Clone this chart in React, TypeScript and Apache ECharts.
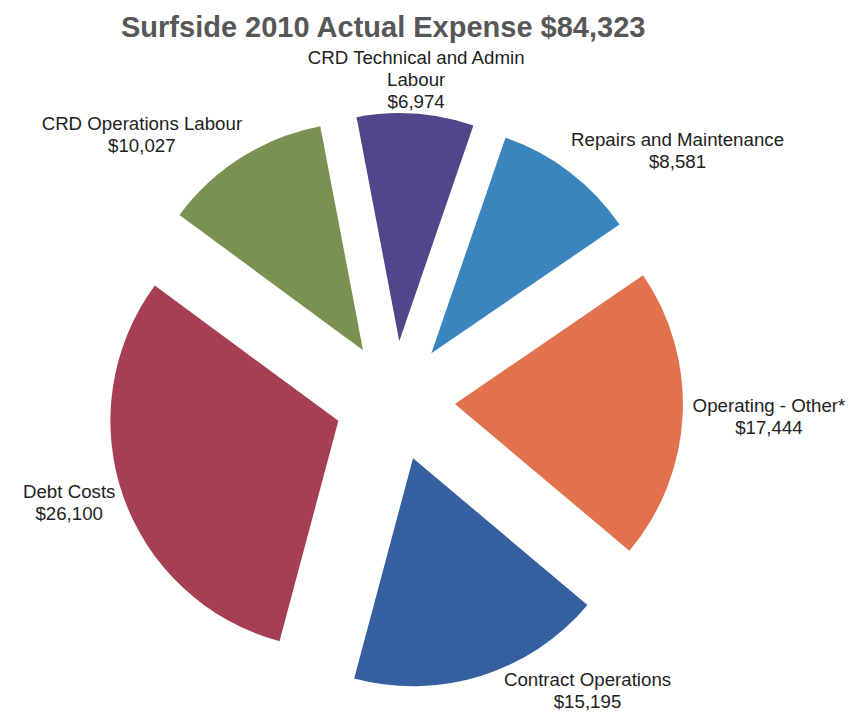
import React, { useEffect, useRef } from "react";
import * as echarts from "echarts";

const titleText = "Surfside 2010 Actual Expense $84,323";
const categories = [
  "CRD Technical and Admin Labour",
  "Repairs and Maintenance",
  "Operating - Other*",
  "Contract Operations",
  "Debt Costs",
  "CRD Operations Labour",
];
const values = [6974, 8581, 17444, 15195, 26100, 10027];
const colors = ["#52468a", "#3a85bd", "#e2714d", "#34609f", "#a63f52", "#7a9251"];

const W = 851;
const H = 712;
const CX = 395;
const CY = 401;
const R = 228;
const OFFSET = 60;
const GAP = 10;
const START = -10.8; // degrees clockwise from 12 o'clock
const FONT = "'Liberation Sans', Arial, Helvetica, sans-serif";

function wrap(name: string, maxChars: number): string {
  const words = name.split(" ");
  const lines: string[] = [];
  let cur = "";
  for (const w of words) {
    const next = cur ? cur + " " + w : w;
    if (next.length > maxChars && cur) {
      lines.push(cur);
      cur = w;
    } else cur = next;
  }
  if (cur) lines.push(cur);
  return lines.join("\n");
}

function fmtMoney(v: number): string {
  return "$" + v.toLocaleString("en-US");
}

export default function App() {
  const ref = useRef<HTMLDivElement>(null);
  useEffect(() => {
    if (!ref.current) return;
    const chart = echarts.init(ref.current, undefined, { renderer: "svg" });
    const total = values.reduce((a, b) => a + b, 0);
    const mids: number[] = [];
    let cum = 0;
    values.forEach((v) => {
      mids.push(START + ((cum + v / 2) / total) * 360);
      cum += v;
    });

    const intersects = (cx: number, cy: number, w: number, h: number, rad: number) => {
      const nx = Math.max(cx - w / 2, Math.min(CX, cx + w / 2));
      const ny = Math.max(cy - h / 2, Math.min(CY, cy + h / 2));
      return Math.hypot(nx - CX, ny - CY) < rad;
    };

    const common = {
      type: "pie",
      center: [CX, CY],
      radius: [0, R],
      startAngle: 90 - START,
      clockwise: true,
      avoidLabelOverlap: false,
      silent: true,
    };

    chart.setOption({
      animation: false,
      backgroundColor: "#ffffff",
      title: {
        text: titleText,
        left: 116,
        top: 7,
        textStyle: { fontSize: 29, fontWeight: "bold", color: "#575757", fontFamily: FONT },
      },
      series: [
        {
          ...common,
          selectedMode: "multiple",
          selectedOffset: OFFSET,
          label: { show: false },
          labelLine: { show: false },
          itemStyle: { borderWidth: 0 },
          data: categories.map((name, i) => ({
            name,
            value: values[i],
            selected: true,
            itemStyle: { color: colors[i] },
          })),
        },
        {
          ...common,
          label: {
            show: true,
            position: "outside",
            formatter: (p: any) => wrap(p.name, 24) + "\n" + fmtMoney(p.value),
            fontSize: 18.7,
            lineHeight: 22,
            color: "#222222",
            fontFamily: FONT,
            align: "center",
          },
          labelLine: { show: false },
          labelLayout: (p: any) => {
            const i = p.dataIndex;
            const a = (mids[i] * Math.PI) / 180;
            const dx = Math.sin(a);
            const dy = -Math.cos(a);
            const w = p.labelRect.width;
            const h = p.labelRect.height;
            const d = R + OFFSET;
            const f = Math.sign(dx) * Math.max(0, Math.min(1, (Math.abs(dx) - 0.15) * 3));
            const g = GAP * (1 - 2 * dy * dy);
            let x = CX + dx * d + f * (w / 2 + g);
            let y = CY + dy * d + dy * (0.45 * (h / 2) + GAP);
            const x0 = x;
            const y0 = y;
            x = Math.max(w / 2, Math.min(W - w / 2, x));
            y = Math.max(h / 2, Math.min(H - h / 2, y));
            const clampedY = y !== y0;
            const clampedX = x !== x0;
            let n = 0;
            const sx = dx >= 0 ? 1 : -1;
            while (intersects(x, y, w, h, R + OFFSET) && n < 400) {
              if (clampedY) x += sx;
              else if (clampedX) y += dy >= 0 ? 1 : -1;
              else {
                x += dx;
                y += dy;
              }
              n++;
            }
            return { x, y, align: "center", verticalAlign: "middle" };
          },
          itemStyle: { color: "rgba(0,0,0,0)", borderWidth: 0 },
          data: categories.map((name, i) => ({ name, value: values[i] })),
        },
      ],
    });
    return () => chart.dispose();
  }, []);
  return (
    <div
      ref={ref}
      style={{ position: "absolute", left: 0, top: 0, width: W, height: H }}
    />
  );
}
